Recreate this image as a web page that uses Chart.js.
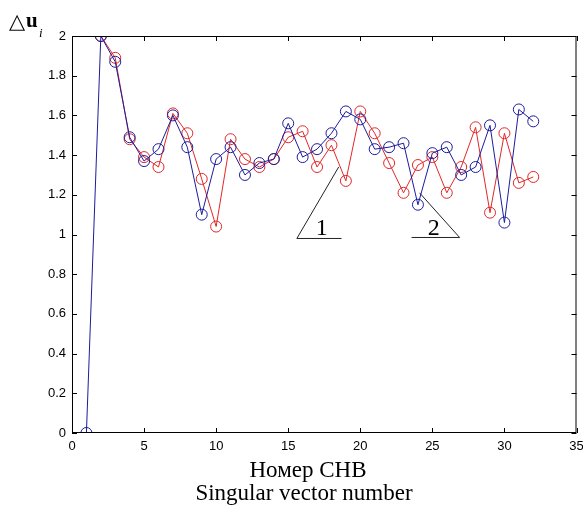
<!DOCTYPE html>
<html>
<head>
<meta charset="utf-8">
<script src="https://cdn.jsdelivr.net/npm/chart.js@4/dist/chart.umd.min.js"></script>
<style>
    html, body { margin: 0; padding: 0; background: #fff; }
    #wrap { width: 583px; height: 506px; }
</style>
</head>
<body>
<div id="wrap"><canvas id="svChart"></canvas></div>
<script>
// singular vector numbers and the two series
const blueNumbers = [1, 2, 3, 4, 5, 6, 7, 8, 9, 10, 11, 12, 13, 14, 15, 16,
    17, 18, 19, 20, 21, 22, 23, 24, 25, 26, 27, 28, 29, 30, 31, 32];
const blueValues = [0, 2.0, 1.87, 1.49, 1.37, 1.43, 1.60, 1.44, 1.10, 1.38, 1.44, 1.30, 1.36, 1.38, 1.56, 1.39,
    1.43, 1.51, 1.62, 1.58, 1.43, 1.44, 1.46, 1.15, 1.41, 1.44, 1.30, 1.34, 1.55, 1.06, 1.63, 1.57];

const redNumbers = [2, 3, 4, 5, 6, 7, 8, 9, 10, 11, 12, 13, 14, 15, 16,
    17, 18, 19, 20, 21, 22, 23, 24, 25, 26, 27, 28, 29, 30, 31, 32];
const redValues = [2.0, 1.89, 1.48, 1.39, 1.34, 1.61, 1.51, 1.28, 1.04, 1.48, 1.38, 1.34, 1.38, 1.49, 1.52,
    1.34, 1.45, 1.27, 1.62, 1.51, 1.36, 1.21, 1.35, 1.39, 1.21, 1.34, 1.54, 1.11, 1.51, 1.26, 1.29];

const xTicks = [0, 5, 10, 15, 20, 25, 30, 35];
const yTicks = [0, 0.2, 0.4, 0.6, 0.8, 1, 1.2, 1.4, 1.6, 1.8, 2];

// leader lines for the curve labels, in data units
const curveLabels = [
    { text: '1', at: [17.33, 0.995], path: [[18.5, 1.34], [15.6, 0.98], [18.7, 0.98]] },
    { text: '2', at: [25.09, 0.995], path: [[24.11, 1.21], [26.89, 0.985], [23.56, 0.985]] }
];

const toPoints = (xs, ys) => xs.map((x, i) => ({ x: x, y: ys[i] }));

// MATLAB style frame: full box with inward ticks on all four sides
const framePlugin = {
    id: 'frame',
    afterDraw(chart) {
        const { ctx, chartArea: a, scales } = chart;
        const len = 5;
        ctx.save();
        ctx.strokeStyle = '#000';
        ctx.lineWidth = 1;
        ctx.strokeRect(a.left + 0.5, a.top + 0.5, a.right - a.left - 1, a.bottom - a.top - 1);
        ctx.beginPath();
        xTicks.forEach(v => {
            const px = Math.round(scales.x.getPixelForValue(v)) + 0.5;
            ctx.moveTo(px, a.bottom); ctx.lineTo(px, a.bottom - len);
            ctx.moveTo(px, a.top); ctx.lineTo(px, a.top + len);
        });
        yTicks.forEach(v => {
            const py = Math.round(scales.y.getPixelForValue(v)) + 0.5;
            ctx.moveTo(a.left, py); ctx.lineTo(a.left + len, py);
            ctx.moveTo(a.right, py); ctx.lineTo(a.right - len, py);
        });
        ctx.stroke();

        // numbered leader lines
        ctx.strokeStyle = '#222';
        ctx.fillStyle = '#000';
        ctx.font = '24px "Liberation Serif", "Times New Roman", serif';
        ctx.textAlign = 'center';
        ctx.textBaseline = 'alphabetic';
        curveLabels.forEach(lbl => {
            ctx.beginPath();
            lbl.path.forEach((p, i) => {
                const px = scales.x.getPixelForValue(p[0]);
                const py = scales.y.getPixelForValue(p[1]);
                if (i === 0) ctx.moveTo(px, py); else ctx.lineTo(px, py);
            });
            ctx.stroke();
            ctx.fillText(lbl.text, scales.x.getPixelForValue(lbl.at[0]), scales.y.getPixelForValue(lbl.at[1]));
        });

        // y axis label
        ctx.textAlign = 'left';
        ctx.font = '21px "DejaVu Sans", sans-serif';
        ctx.fillText('\u25B3', 9, 28);
        ctx.font = 'bold 21px "Liberation Serif", "Times New Roman", serif';
        ctx.fillText('u', 26, 27);
        ctx.font = 'italic 13px "Liberation Serif", "Times New Roman", serif';
        ctx.fillText('i', 39, 37);

        // x axis title, two lines
        ctx.textAlign = 'center';
        ctx.font = '23px "Liberation Serif", "Times New Roman", serif';
        ctx.fillText('Номер СНВ', 308, 477);
        ctx.fillText('Singular vector number', 304, 500);
        ctx.restore();
    }
};

const ctx = document.getElementById('svChart').getContext('2d');
new Chart(ctx, {
    type: 'line',
    data: {
        datasets: [
            {
                label: '2',
                data: toPoints(blueNumbers, blueValues),
                borderColor: '#1c1c9c',
                borderWidth: 1,
                pointStyle: 'circle',
                pointRadius: 5.5,
                pointBorderWidth: 1,
                pointBorderColor: '#1c1c9c',
                pointBackgroundColor: 'rgba(0,0,0,0)',
                tension: 0
            },
            {
                label: '1',
                data: toPoints(redNumbers, redValues),
                borderColor: '#e02828',
                borderWidth: 1,
                pointStyle: 'circle',
                pointRadius: 5.5,
                pointBorderWidth: 1,
                pointBorderColor: '#e02828',
                pointBackgroundColor: 'rgba(0,0,0,0)',
                tension: 0
            }
        ]
    },
    options: {
        responsive: true,
        maintainAspectRatio: false,
        animation: false,
        layout: { padding: { top: 36, right: 6, left: 0, bottom: 0 } },
        plugins: {
            legend: { display: false },
            tooltip: { enabled: false }
        },
        scales: {
            x: {
                type: 'linear',
                min: 0,
                max: 35,
                afterBuildTicks: scale => { scale.ticks = xTicks.map(v => ({ value: v })); },
                afterFit: scale => {
                    scale.height = 73;
                    scale.paddingLeft = 0;
                    scale.paddingRight = 0;
                },
                grid: { display: false, drawTicks: false },
                border: { display: false },
                ticks: {
                    padding: 6,
                    color: '#000',
                    font: { family: '"Liberation Sans", Arial, sans-serif', size: 13 },
                    maxRotation: 0,
                    callback: v => String(v)
                }
            },
            y: {
                min: 0,
                max: 2,
                afterBuildTicks: scale => { scale.ticks = yTicks.map(v => ({ value: v })); },
                afterFit: scale => {
                    scale.width = 72;
                    scale.paddingTop = 0;
                    scale.paddingBottom = 0;
                },
                grid: { display: false, drawTicks: false },
                border: { display: false },
                ticks: {
                    padding: 6,
                    color: '#000',
                    font: { family: '"Liberation Sans", Arial, sans-serif', size: 13 },
                    callback: v => String(Math.round(v * 10) / 10)
                }
            }
        }
    },
    plugins: [framePlugin]
});
</script>
</body>
</html>
